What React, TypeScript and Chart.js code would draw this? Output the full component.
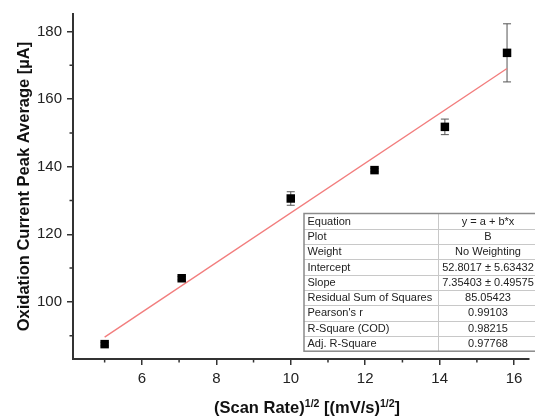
import React, { useEffect, useRef } from "react";
import { Chart, registerables } from "chart.js";

Chart.register(...registerables);

const scanRateSqrt = [5, 7.07, 10, 12.25, 14.14, 15.81];
const peakAverage = [87.5, 107.0, 130.6, 139.0, 151.8, 173.7];
const peakError = [0.5, 0.5, 2.0, 0.5, 2.3, 8.6];
const fitX = [5, 15.81];
const fitY = [89.57, 169.07];
const xMajorTicks = [6, 8, 10, 12, 14, 16];
const xMinorTicks = [5, 7, 9, 11, 13, 15];
const yMajorTicks = [100, 120, 140, 160, 180];
const yMinorTicks = [90, 110, 130, 150, 170];
const tableLabels = [
  "Equation",
  "Plot",
  "Weight",
  "Intercept",
  "Slope",
  "Residual Sum of Squares",
  "Pearson's r",
  "R-Square (COD)",
  "Adj. R-Square",
];
const tableValues = [
  "y = a + b*x",
  "B",
  "No Weighting",
  "52.8017 \u00b1 5.63432",
  "7.35403 \u00b1 0.49575",
  "85.05423",
  "0.99103",
  "0.98215",
  "0.97768",
];

const FONT = "'Liberation Sans', Arial, Helvetica, sans-serif";
const AXIS_COLOR = "#333";

const extrasPlugin = {
  id: "extras",
  beforeDatasetsDraw(chart: any) {
    const ctx = chart.ctx;
    const xs = chart.scales.x;
    const ys = chart.scales.y;
    ctx.save();
    ctx.strokeStyle = "#555";
    ctx.lineWidth = 1;
    scanRateSqrt.forEach((xv, i) => {
      const px = xs.getPixelForValue(xv);
      const top = ys.getPixelForValue(peakAverage[i] + peakError[i]);
      const bot = ys.getPixelForValue(peakAverage[i] - peakError[i]);
      ctx.beginPath();
      ctx.moveTo(px, top);
      ctx.lineTo(px, bot);
      ctx.moveTo(px - 4, top);
      ctx.lineTo(px + 4, top);
      ctx.moveTo(px - 4, bot);
      ctx.lineTo(px + 4, bot);
      ctx.stroke();
    });
    ctx.restore();
  },
  afterDraw(chart: any) {
    const ctx = chart.ctx;
    const xs = chart.scales.x;
    const ys = chart.scales.y;
    const ca = chart.chartArea;
    ctx.save();
    // minor ticks
    ctx.strokeStyle = AXIS_COLOR;
    ctx.lineWidth = 1.5;
    ctx.beginPath();
    xMinorTicks.forEach((v) => {
      const px = xs.getPixelForValue(v);
      ctx.moveTo(px, ca.bottom);
      ctx.lineTo(px, ca.bottom + 3.5);
    });
    yMinorTicks.forEach((v) => {
      const py = ys.getPixelForValue(v);
      ctx.moveTo(ca.left, py);
      ctx.lineTo(ca.left - 3.5, py);
    });
    ctx.stroke();

    // x axis title with superscripts
    const parts: [string, boolean][] = [
      ["(Scan Rate)", false],
      ["1/2", true],
      [" [(mV/s)", false],
      ["1/2", true],
      ["]", false],
    ];
    const mainFont = `bold 16.5px ${FONT}`;
    const supFont = `bold 10.5px ${FONT}`;
    let total = 0;
    parts.forEach(([t, sup]) => {
      ctx.font = sup ? supFont : mainFont;
      total += ctx.measureText(t).width;
    });
    let cx = (ca.left + ca.right) / 2 + 6 - total / 2;
    const baseY = 413;
    ctx.fillStyle = "#111";
    ctx.textBaseline = "alphabetic";
    ctx.textAlign = "left";
    parts.forEach(([t, sup]) => {
      ctx.font = sup ? supFont : mainFont;
      ctx.fillText(t, cx, sup ? baseY - 6.5 : baseY);
      cx += ctx.measureText(t).width;
    });

    // statistics table
    const tLeft = 304;
    const tTop = 213.5;
    const rowH = 15.3;
    const colX = 438;
    const tRight = 540;
    const tBottom = tTop + rowH * tableLabels.length;
    ctx.fillStyle = "#fff";
    ctx.fillRect(tLeft, tTop, tRight - tLeft, tBottom - tTop);
    ctx.strokeStyle = "#c8c8c8";
    ctx.lineWidth = 1;
    ctx.beginPath();
    for (let i = 1; i < tableLabels.length; i++) {
      const y = Math.round(tTop + rowH * i) + 0.5;
      ctx.moveTo(tLeft, y);
      ctx.lineTo(tRight, y);
    }
    ctx.moveTo(colX + 0.5, tTop);
    ctx.lineTo(colX + 0.5, tBottom);
    ctx.stroke();
    ctx.strokeStyle = "#8a8a8a";
    ctx.lineWidth = 1.5;
    ctx.strokeRect(tLeft, tTop, tRight - tLeft, tBottom - tTop);
    ctx.font = `11px ${FONT}`;
    ctx.fillStyle = "#222";
    ctx.textBaseline = "middle";
    tableLabels.forEach((lab, i) => {
      const y = tTop + rowH * (i + 0.5) + 0.5;
      ctx.textAlign = "left";
      ctx.fillText(lab, tLeft + 3.5, y);
      ctx.textAlign = "center";
      ctx.fillText(tableValues[i], 488, y);
    });
    ctx.restore();
  },
};

export default function App() {
  const ref = useRef<HTMLCanvasElement | null>(null);
  useEffect(() => {
    if (!ref.current) return;
    const chart = new Chart(ref.current, {
      type: "scatter",
      data: {
        datasets: [
          {
            label: "B",
            data: scanRateSqrt.map((x, i) => ({ x, y: peakAverage[i] })),
            pointStyle: "rect",
            pointRadius: 6,
            pointHoverRadius: 6,
            backgroundColor: "#000",
            borderColor: "#000",
            borderWidth: 0,
            order: 0,
          },
          {
            type: "line",
            label: "Linear Fit",
            data: fitX.map((x, i) => ({ x, y: fitY[i] })),
            borderColor: "#f27d7d",
            borderWidth: 1.4,
            pointRadius: 0,
            showLine: true,
            fill: false,
            order: 1,
          } as any,
        ],
      },
      options: {
        responsive: false,
        animation: false,
        layout: { padding: { top: 14, right: 5, left: 0, bottom: 0 } },
        plugins: {
          legend: { display: false },
          tooltip: { enabled: false },
        },
        scales: {
          x: {
            type: "linear",
            min: 4.15,
            max: 16.4,
            afterBuildTicks: (s: any) => {
              s.ticks = xMajorTicks.map((v) => ({ value: v }));
            },
            afterFit: (s: any) => {
              s.height = 58;
            },
            ticks: {
              font: { family: FONT, size: 15 },
              color: "#222",
              padding: 5,
              maxRotation: 0,
              autoSkip: false,
            },
            grid: {
              drawOnChartArea: false,
              drawTicks: true,
              tickLength: 6,
              color: AXIS_COLOR,
              lineWidth: 1.5,
            },
            border: { display: true, color: AXIS_COLOR, width: 2 },
          },
          y: {
            type: "linear",
            min: 83.1,
            max: 185.2,
            afterBuildTicks: (s: any) => {
              s.ticks = yMajorTicks.map((v) => ({ value: v }));
            },
            afterFit: (s: any) => {
              s.width = 73;
            },
            ticks: {
              font: { family: FONT, size: 15 },
              color: "#222",
              padding: 5,
              autoSkip: false,
            },
            grid: {
              drawOnChartArea: false,
              drawTicks: true,
              tickLength: 6,
              color: AXIS_COLOR,
              lineWidth: 1.5,
            },
            border: { display: true, color: AXIS_COLOR, width: 2 },
            title: {
              display: true,
              text: "Oxidation Current Peak Average [\u00b5A]",
              font: { family: FONT, size: 16.5, weight: "bold" },
              color: "#111",
              padding: { top: 15, bottom: 0 },
            },
          },
        },
      },
      plugins: [extrasPlugin],
    });
    return () => chart.destroy();
  }, []);
  return (
    <div style={{ position: "absolute", left: 0, top: 0, width: 535, height: 417, background: "#fff" }}>
      <canvas ref={ref} width={535} height={417} style={{ display: "block" }} />
    </div>
  );
}
